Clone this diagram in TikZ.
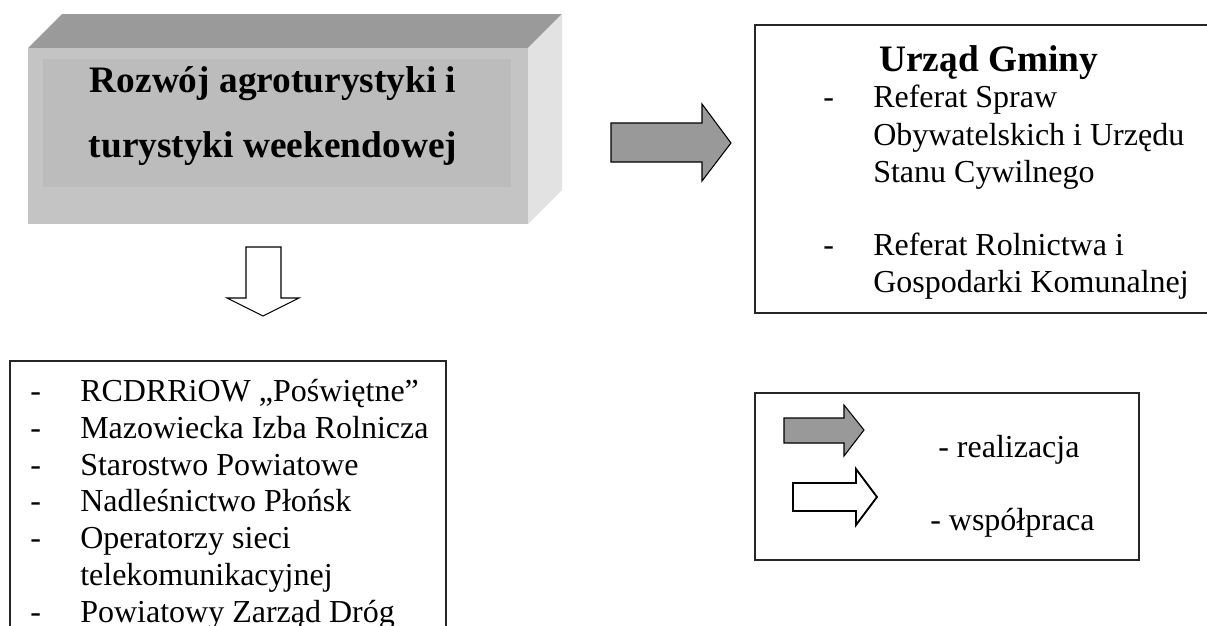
\documentclass[tikz,border=0pt]{standalone}
\usepackage{fontspec}
\setmainfont{Liberation Serif}
\usetikzlibrary{calc}
\definecolor{topface}{HTML}{9A9A9A}
\definecolor{frontface}{HTML}{C4C4C4}
\definecolor{innerface}{HTML}{BCBCBC}
\definecolor{sideface}{HTML}{E2E2E2}
\definecolor{arrowgray}{HTML}{999999}
\tikzset{
	ramka/.style={line width=1.4pt, draw=black!85},
	strzalka/.style={line width=0.8pt, draw=black, line join=miter},
	txt/.style={anchor=base west, inner sep=0pt, font=\fontsize{24}{27.6}\selectfont},
	tyt/.style={inner sep=0pt, font=\fontsize{28}{32}\selectfont\bfseries},
}

\begin{document}
\begin{tikzpicture}[x=0.75pt,y=-0.75pt]
		%%%%% START %%%%%
		\useasboundingbox (0,0) rectangle (1207,625);
		\clip (0,0) rectangle (1207,625);
		
		% blok 3D
		\fill[topface] (28,48) -- (62,14) -- (562,14) -- (528,48) -- cycle;
		\fill[sideface] (528,48) -- (562,14) -- (562,190) -- (528,224) -- cycle;
		\fill[frontface] (28,48) rectangle (528,224);
		\fill[innerface] (43,59) rectangle (511,187);
		\node[tyt, anchor=base] (rozwoj1) at (273,92) {Rozwój agroturystyki i};
		\node[tyt, anchor=base] (rozwoj2) at (273,157) {turystyki weekendowej};
		
		% strzalki
		\draw[strzalka, fill=white] (246,247) -- (281,247) -- (281,298) -- (299,298) -- (263,316) -- (227,298) -- (246,298) -- cycle;
		\draw[strzalka, fill=arrowgray] (611,123) -- (702,123) -- (702,104) -- (731,143) -- (702,181) -- (702,162) -- (611,162) -- cycle;
		
		% Urzad Gminy
		\draw[ramka] (755,25) rectangle (1240,313);
		\node[tyt, anchor=base west] (urzad) at (879,71) {Urząd Gminy};
		\node[txt] (ugd1) at (823,107) {-};
		\node[txt] (ug1) at (873,107) {Referat Spraw};
		\node[txt] (ug2) at (873,145) {Obywatelskich i Urzędu};
		\node[txt] (ug3) at (873,182) {Stanu Cywilnego};
		\node[txt] (ugd2) at (823,255) {-};
		\node[txt] (ug4) at (873,255) {Referat Rolnictwa i};
		\node[txt] (ug5) at (873,292) {Gospodarki Komunalnej};
		
		% wspolpraca
		\draw[ramka] (10,361) rectangle (446,660);
		\node[txt] (wd1) at (30,401) {-};
		\node[txt] (w1) at (80,401) {RCDRRiOW „Poświętne”};
		\node[txt] (wd2) at (30,438) {-};
		\node[txt] (w2) at (80,438) {Mazowiecka Izba Rolnicza};
		\node[txt] (wd3) at (30,475) {-};
		\node[txt] (w3) at (80,475) {Starostwo Powiatowe};
		\node[txt] (wd4) at (30,511.5) {-};
		\node[txt] (w4) at (80,511.5) {Nadleśnictwo Płońsk};
		\node[txt] (wd5) at (30,548) {-};
		\node[txt] (w5) at (80,548) {Operatorzy sieci};
		\node[txt] (w6) at (80,585) {telekomunikacyjnej};
		\node[txt] (wd7) at (30,622) {-};
		\node[txt] (w7) at (80,622) {Powiatowy Zarząd Dróg};
		
		% legenda
		\draw[ramka] (755,393) rectangle (1139,560);
		\draw[strzalka, fill=arrowgray] (784,418) -- (844,418) -- (844,405) -- (864,430) -- (844,456) -- (844,443) -- (784,443) -- cycle;
		\draw[strzalka, line width=1.4pt, fill=white] (793,483) -- (856,483) -- (856,469) -- (877,497) -- (856,525) -- (856,511) -- (793,511) -- cycle;
		\node[txt] (realiz) at (938,457) {- realizacja};
		\node[txt] (wspol) at (930,530) {- współpraca};
		
		%%%%% END %%%%%
	\end{tikzpicture}
\end{document}
